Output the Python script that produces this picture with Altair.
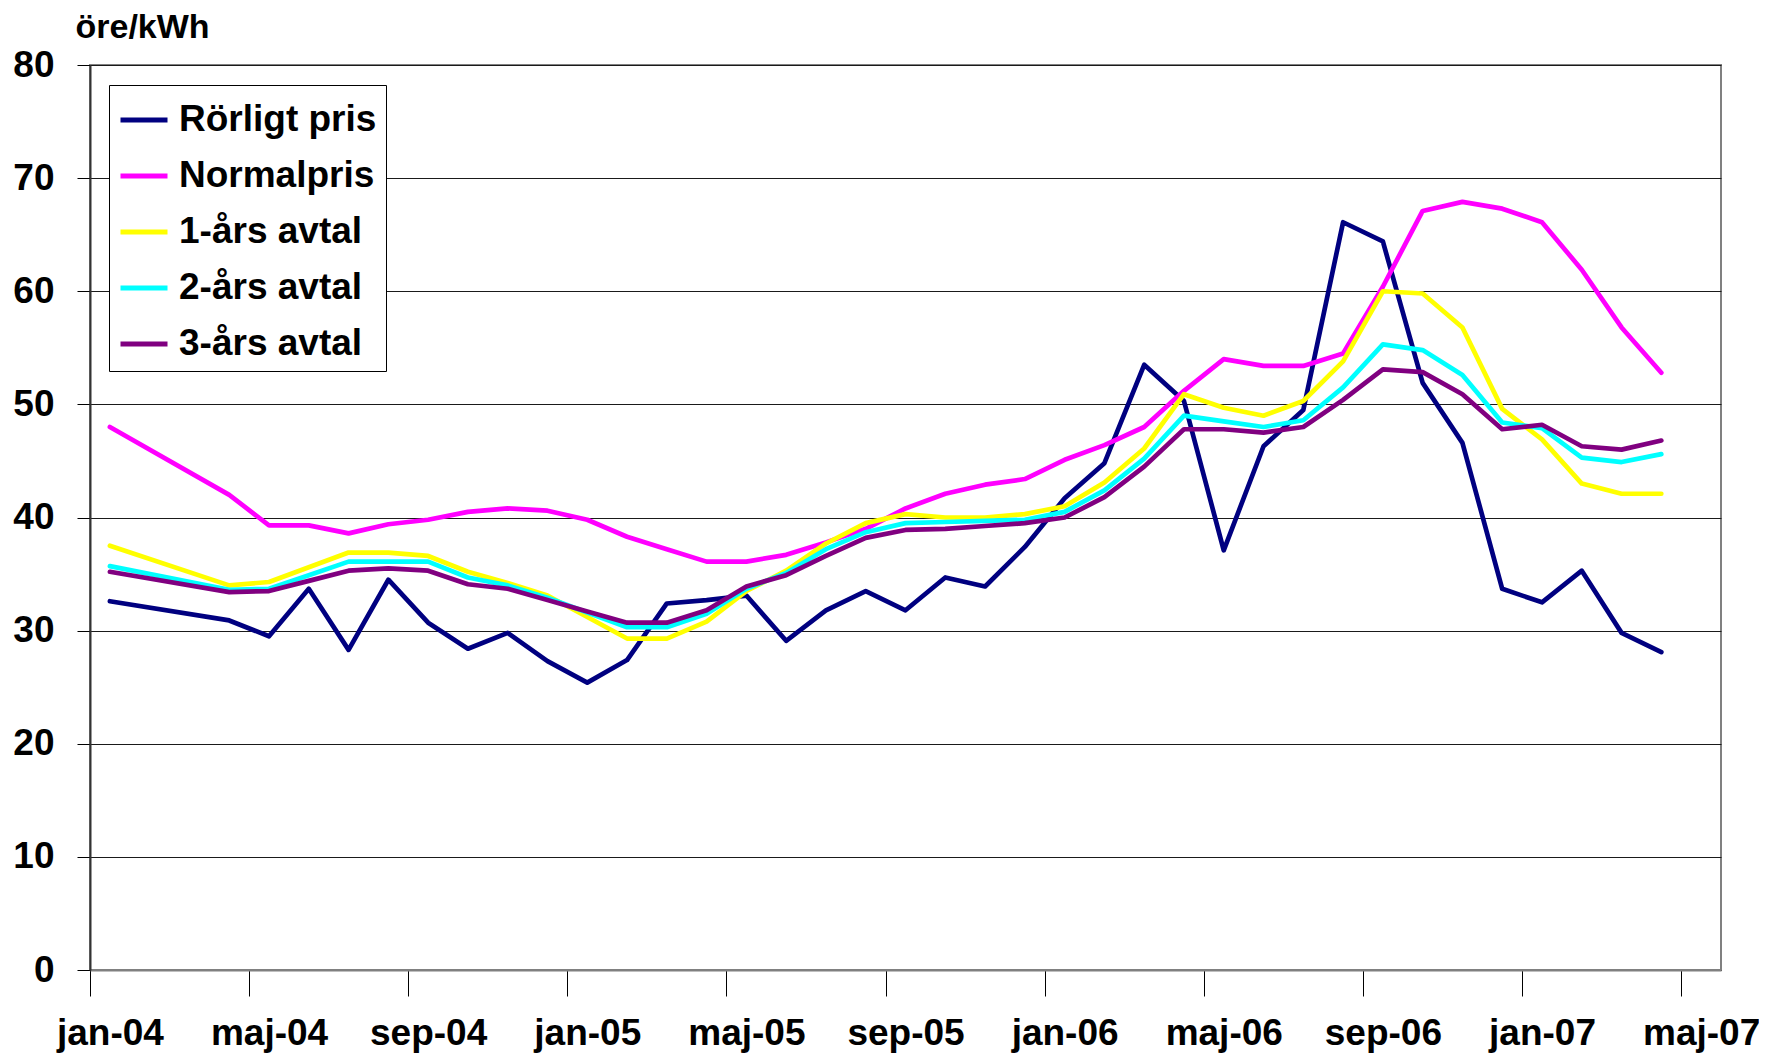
import altair as alt
import pandas as pd

months = [
    "2004-01", "2004-04", "2004-05", "2004-06", "2004-07", "2004-08", "2004-09", "2004-10", "2004-11", "2004-12",
    "2005-01", "2005-02", "2005-03", "2005-04", "2005-05", "2005-06", "2005-07", "2005-08", "2005-09", "2005-10", "2005-11", "2005-12",
    "2006-01", "2006-02", "2006-03", "2006-04", "2006-05", "2006-06", "2006-07", "2006-08", "2006-09", "2006-10", "2006-11", "2006-12",
    "2007-01", "2007-02", "2007-03", "2007-04",
]

rorligt = [32.6, 30.9, 29.5, 33.7, 28.3, 34.5, 30.7, 28.4, 29.8, 27.3,
           25.4, 27.4, 32.4, 32.7, 33.1, 29.1, 31.8, 33.5, 31.8, 34.7, 33.9, 37.4,
           41.7, 44.8, 53.5, 50.3, 37.1, 46.3, 49.5, 66.1, 64.4, 51.9, 46.6, 33.7,
           32.5, 35.3, 29.8, 28.1]
normal = [48.0, 42.0, 39.3, 39.3, 38.6, 39.4, 39.8, 40.5, 40.8, 40.6,
          39.8, 38.3, 37.2, 36.1, 36.1, 36.7, 37.8, 39.0, 40.8, 42.1, 42.9, 43.4,
          45.1, 46.4, 48.0, 51.2, 54.0, 53.4, 53.4, 54.5, 60.4, 67.1, 67.9, 67.3,
          66.1, 61.9, 56.8, 52.8]
ett_ar = [37.5, 34.0, 34.3, 35.6, 36.9, 36.9, 36.6, 35.2, 34.2, 33.1,
          31.2, 29.3, 29.3, 30.8, 33.5, 35.3, 37.7, 39.5, 40.3, 40.0, 40.0, 40.3,
          41.0, 43.1, 46.1, 50.9, 49.7, 49.0, 50.3, 53.8, 60.0, 59.8, 56.8, 49.6,
          46.9, 43.0, 42.1, 42.1]
tva_ar = [35.7, 33.6, 33.7, 34.9, 36.1, 36.1, 36.1, 34.7, 34.0, 32.9,
          31.6, 30.3, 30.3, 31.5, 33.7, 35.1, 37.2, 38.7, 39.5, 39.6, 39.7, 39.8,
          40.5, 42.4, 45.2, 49.0, 48.5, 48.0, 48.6, 51.5, 55.3, 54.8, 52.6, 48.4,
          47.9, 45.3, 44.9, 45.6]
tre_ar = [35.2, 33.4, 33.5, 34.4, 35.3, 35.5, 35.3, 34.1, 33.7, 32.7,
          31.7, 30.7, 30.7, 31.8, 33.9, 34.9, 36.6, 38.2, 38.9, 39.0, 39.25, 39.5,
          40.0, 41.8, 44.5, 47.8, 47.8, 47.5, 48.0, 50.4, 53.1, 52.85, 50.9, 47.8,
          48.2, 46.3, 46.0, 46.8]

series_names = ["Rörligt pris", "Normalpris", "1-års avtal", "2-års avtal", "3-års avtal"]
series_values = [rorligt, normal, ett_ar, tva_ar, tre_ar]
series_colors = ["#000080", "#FF00FF", "#FFFF00", "#00FFFF", "#800080"]

tick_labels = ["jan-04", "maj-04", "sep-04", "jan-05", "maj-05", "sep-05",
               "jan-06", "maj-06", "sep-06", "jan-07", "maj-07"]

rows = []
for name, vals in zip(series_names, series_values):
    for m, v in zip(months, vals):
        y, mo = m.split("-")
        idx = (int(y) - 2004) * 12 + int(mo) - 1 + 0.5
        rows.append({"series": name, "month": m, "idx": idx, "value": v})
df = pd.DataFrame(rows)

W, H = 1631, 905
slot = W / 41.0
FONT = "Liberation Sans"

label_arr = "[" + ",".join("'%s'" % t for t in tick_labels) + "]"

chart = alt.Chart(df).mark_line(
    strokeWidth=4.7, strokeCap="round", strokeJoin="round"
).encode(
    x=alt.X("idx:Q",
            scale=alt.Scale(domain=[0, 41], nice=False, zero=False),
            axis=alt.Axis(values=list(range(0, 41, 4)),
                          labelExpr=label_arr + "[round(datum.value/4)]",
                          labelOffset=slot / 2,
                          title=None, grid=False,
                          tickSize=26, tickColor="#000000", tickWidth=1,
                          domainColor="#808080", domainWidth=2,
                          labelPadding=19, labelFontSize=37, labelFont=FONT,
                          labelFontWeight="bold", labelColor="#000000",
                          labelFlush=False, labelOverlap=False)),
    y=alt.Y("value:Q",
            scale=alt.Scale(domain=[0, 80], nice=False),
            axis=alt.Axis(values=list(range(0, 81, 10)),
                          title="öre/kWh", titleAngle=0, titleAlign="left",
                          titleBaseline="alphabetic", titleX=-15, titleY=-28,
                          titleFont=FONT, titleFontSize=34, titleFontWeight="bold",
                          titleColor="#000000",
                          grid=True, gridColor="#1a1a1a", gridWidth=1,
                          tickSize=13, tickColor="#000000", tickWidth=1,
                          domainColor="#333333", domainWidth=2,
                          labelPadding=23, labelFontSize=37, labelFont=FONT,
                          labelFontWeight="bold", labelColor="#000000")),
    color=alt.Color("series:N",
                    scale=alt.Scale(domain=series_names, range=series_colors),
                    legend=alt.Legend(orient="none", legendX=19, legendY=20,
                                      title=None, symbolType="stroke",
                                      symbolSize=2209, symbolStrokeWidth=5,
                                      labelFontSize=37, labelFont=FONT,
                                      labelFontWeight="bold", labelColor="#000000",
                                      labelLimit=500, labelOffset=9,
                                      rowPadding=12, padding=9,
                                      fillColor="#FFFFFF", strokeColor="#000000")),
    detail="series:N",
).properties(
    width=W, height=H,
    autosize=alt.AutoSizeParams(type="none"),
    padding={"left": 82, "top": 57, "right": 38, "bottom": 90},
).configure_view(
    stroke="#808080", strokeWidth=2
)

chart.save("out.html", embed_options={"renderer": "svg", "actions": False})
